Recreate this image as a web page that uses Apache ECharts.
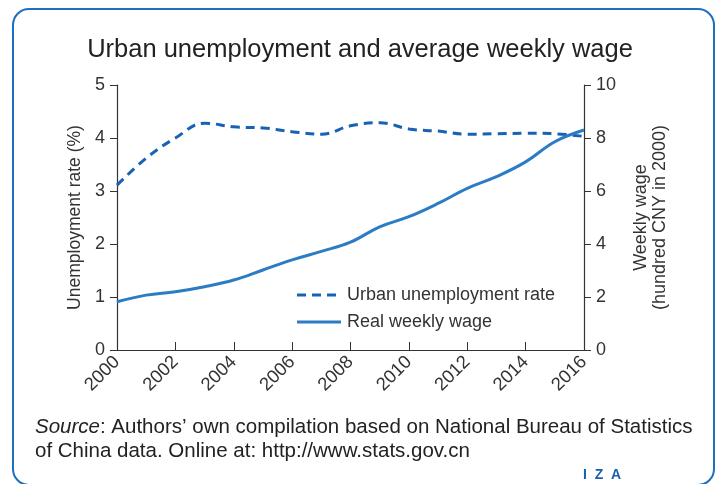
<!DOCTYPE html>
<html>
<head>
<meta charset="utf-8">
<script src="https://cdn.jsdelivr.net/npm/echarts@6/dist/echarts.min.js"></script>
<style>
html,body{margin:0;padding:0;background:#fff;}
#c{width:720px;height:484px;}
</style>
</head>
<body>
<div id="c"></div>
<script>
var years = [2000,2001,2002,2003,2004,2005,2006,2007,2008,2009,2010,2011,2012,2013,2014,2015,2016];
var unemployment = [3.11,3.62,4.0,4.28,4.21,4.19,4.12,4.07,4.23,4.29,4.17,4.13,4.07,4.08,4.09,4.08,4.03];
var wage = [1.82,2.07,2.2,2.39,2.64,3.02,3.40,3.72,4.07,4.65,5.03,5.53,6.1,6.54,7.1,7.86,8.3];
var xTicks = {min:2000, max:2016, step:2};
var leftTicks = {min:0, max:5, step:1};
var rightTicks = {min:0, max:10, step:2};
var legendNames = ['Urban unemployment rate','Real weekly wage'];

var FONT = '"Liberation Sans", Arial, sans-serif';
var TXT = '#333';
var C_DASH = '#1862b3', C_SOLID = '#2c7cc3';
function pairs(vals){ return years.map(function(y,i){ return [y, vals[i]]; }); }

var chart = echarts.init(document.getElementById('c'), null, {renderer:'canvas'});
chart.setOption({
  animation:false,
  backgroundColor:'#fff',
  title:{
    text:'Urban unemployment and average weekly wage',
    left:'center', top:32,
    textStyle:{fontFamily:FONT, fontSize:25.5, fontWeight:'normal', color:'#222'}
  },
  grid:{left:117, right:136, top:85, bottom:134, containLabel:false},
  xAxis:{
    type:'value', min:xTicks.min, max:xTicks.max, interval:xTicks.step,
    axisLine:{lineStyle:{color:'#333', width:1.2}},
    axisTick:{inside:true, length:8, lineStyle:{color:'#333'}},
    splitLine:{show:false},
    axisLabel:{rotate:45, fontFamily:FONT, fontSize:18.5, color:TXT, margin:9,
      formatter:function(v){return String(v);}}
  },
  yAxis:[{
    type:'value', min:leftTicks.min, max:leftTicks.max, interval:leftTicks.step,
    position:'left',
    name:'Unemployment rate (%)', nameLocation:'middle', nameGap:33, nameRotate:90,
    nameTextStyle:{fontFamily:FONT, fontSize:17.5, color:TXT},
    axisLine:{show:true, lineStyle:{color:'#333', width:1.2}},
    axisTick:{show:true, length:7, lineStyle:{color:'#333'}},
    splitLine:{show:false},
    axisLabel:{fontFamily:FONT, fontSize:18, color:TXT, margin:12}
  },{
    type:'value', min:rightTicks.min, max:rightTicks.max, interval:rightTicks.step,
    position:'right',
    name:'Weekly wage\n(hundred CNY in 2000)', nameLocation:'middle', nameGap:48, nameRotate:90,
    nameTextStyle:{fontFamily:FONT, fontSize:18, color:TXT, lineHeight:19},
    axisLine:{show:true, lineStyle:{color:'#333', width:1.2}},
    axisTick:{show:true, length:7, lineStyle:{color:'#333'}},
    splitLine:{show:false},
    axisLabel:{fontFamily:FONT, fontSize:18, color:TXT, margin:12}
  }],
  series:[{
    name:legendNames[0], type:'line', yAxisIndex:0, smooth:0.4,
    showSymbol:false, symbol:'none', data:pairs(unemployment),
    lineStyle:{color:C_DASH, width:3, type:[9,6]},
    itemStyle:{color:C_DASH}
  },{
    name:legendNames[1], type:'line', yAxisIndex:1, smooth:0.4,
    showSymbol:false, symbol:'none', data:pairs(wage),
    lineStyle:{color:C_SOLID, width:3},
    itemStyle:{color:C_SOLID}
  }],
  graphic:[{
    type:'rect', shape:{x:13, y:9, width:701, height:476, r:16},
    style:{fill:'none', stroke:'#1d6fc0', lineWidth:2}, silent:true, z:-1
  },{
    type:'line', shape:{x1:297, y1:295, x2:341, y2:295},
    style:{stroke:C_DASH, lineWidth:3, lineDash:[9,6]}
  },{
    type:'text', left:347, top:286,
    style:{text:legendNames[0], font:'18px ' + FONT, fill:TXT}
  },{
    type:'line', shape:{x1:297, y1:322, x2:341, y2:322},
    style:{stroke:C_SOLID, lineWidth:3}
  },{
    type:'text', left:347, top:313,
    style:{text:legendNames[1], font:'18px ' + FONT, fill:TXT}
  },{
    type:'text', left:35, top:415,
    style:{
      text:'{i|Source}: Authors\u2019 own compilation based on National Bureau of Statistics\nof China data. Online at: http://www.stats.gov.cn',
      font:'20.5px ' + FONT, fill:'#222', lineHeight:24,
      rich:{i:{fontStyle:'italic', fontFamily:FONT, fontSize:20.5, fill:'#222'}}
    }
  },{
    type:'text', left:583, top:468,
    style:{text:'I  Z  A', font:'bold 14px ' + FONT, fill:'#1d5fae'}
  }]
});
</script>
</body>
</html>
